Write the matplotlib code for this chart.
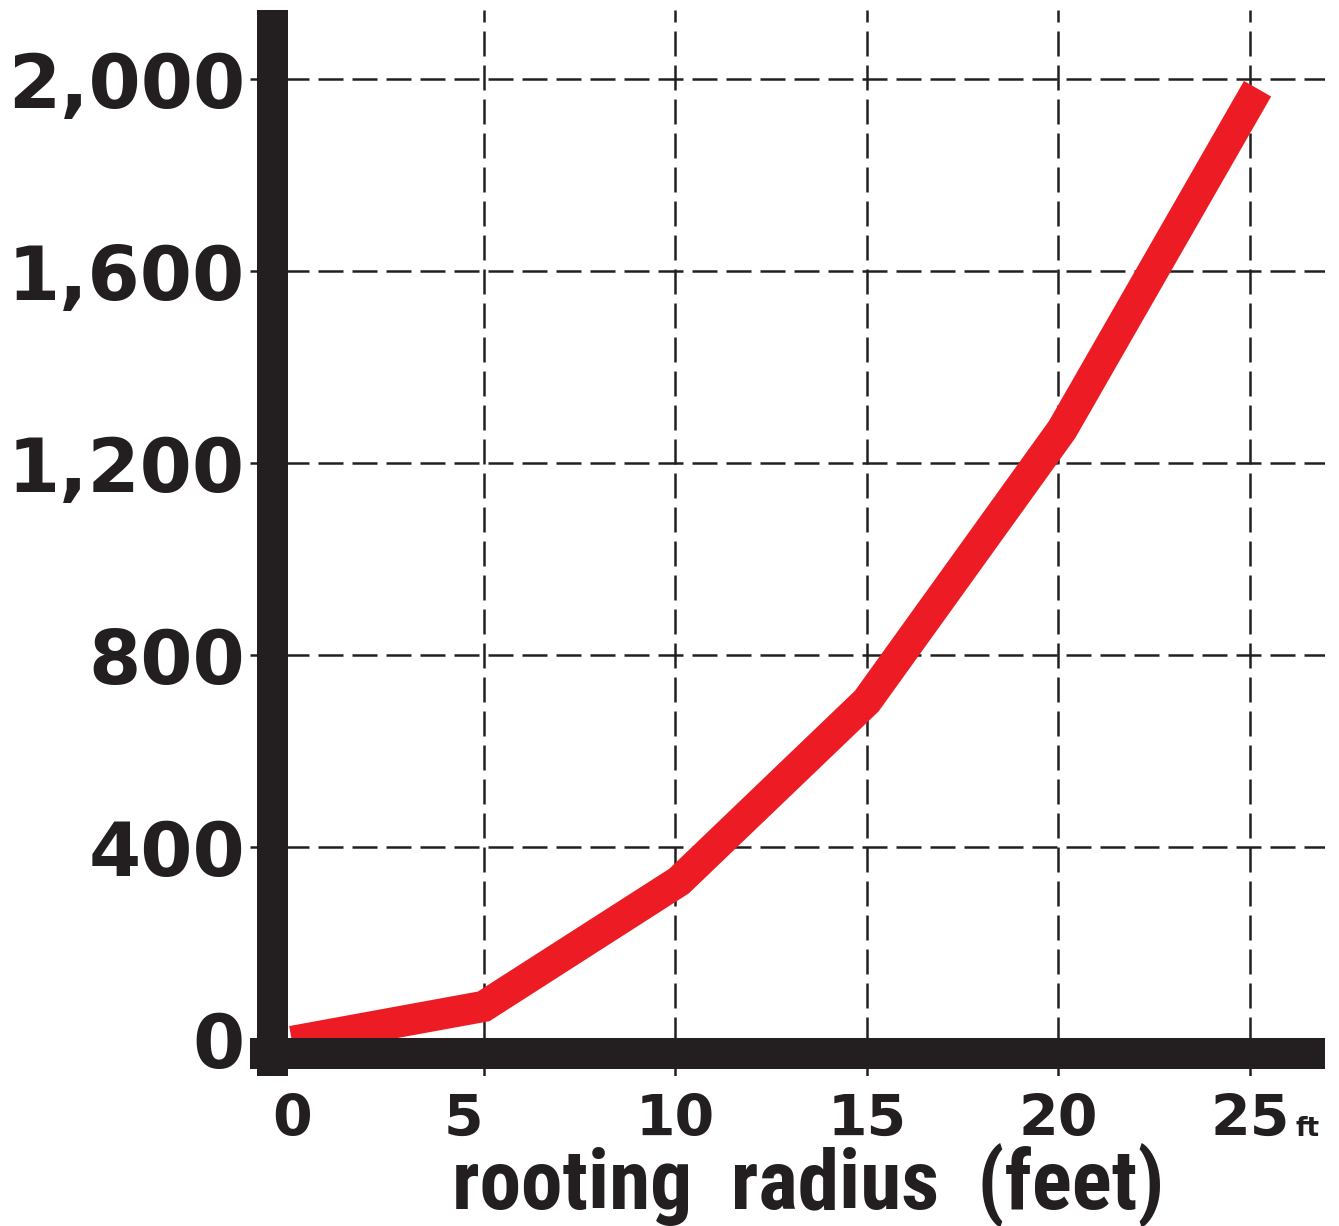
import matplotlib
matplotlib.use("Agg")
import matplotlib.pyplot as plt
from matplotlib import font_manager

# rooting radius (ft) vs rooting area
radius = [0, 5, 10.1, 15, 20.1, 25.2]
area = [-5, 68, 329, 704, 1270, 1980]

x_ticks = [0, 5, 10, 15, 20, 25]
x_labels = ["0", "5", "10", "15", "20", "25"]
y_ticks = [0, 400, 800, 1200, 1600, 2000]
y_labels = ["0", "400", "800", "1,200", "1,600", "2,000"]

fonts = font_manager.fontManager.ttflist
names = set(f.name for f in fonts)
cond = [f for f in fonts if f.name == "DejaVu Sans" and f.stretch == "condensed"]
if "Roboto Condensed" in names:
    narrow, narrow_kw = "Roboto Condensed", dict(fontweight="black", fontsize=60)
elif cond:
    narrow, narrow_kw = "DejaVu Sans", dict(fontweight="bold", fontstretch="condensed", fontsize=56)
else:
    narrow, narrow_kw = "Roboto", dict(fontweight="black", fontsize=52)

ink = "#231f20"
red = "#ed1c24"

W, H = 1339, 1226
fig = plt.figure(figsize=(W / 100, H / 100), dpi=100)
ax = fig.add_axes([250 / W, 1 - 1076 / H, 1075 / W, 1066 / H])

ax.set_xlim(-1.096, 26.96)
ax.set_ylim(-77, 2144)

for s in ax.spines.values():
    s.set_visible(False)

ax.set_xticks(x_ticks[1:])
ax.set_yticks(y_ticks[1:])
ax.tick_params(length=0, pad=0)
ax.set_xticklabels([])
ax.set_yticklabels([])
ax.grid(True, color=ink, linewidth=1.8, linestyle=(0, (10, 3.6)))

ax.plot(radius, area, color=red, linewidth=22.5, solid_joinstyle="miter",
        solid_capstyle="butt", zorder=3)

# heavy axis bars
ax.axvspan(-0.913, -0.104, color=ink, zorder=5, linewidth=0)
ax.axhspan(-62.5, 2, color=ink, zorder=5, linewidth=0)

# y labels
for v, lab in zip(y_ticks, y_labels):
    ax.annotate(lab, xy=(0, v), xycoords=("axes fraction", "data"),
                xytext=(-5, 0), textcoords="offset pixels",
                ha="right", va="center_baseline", fontsize=54, fontweight="bold",
                family="DejaVu Sans", color=ink)

# x labels
shift = {"5": -20}
for v, lab in zip(x_ticks, x_labels):
    ax.annotate(lab, xy=(v, 0), xycoords=("data", "axes fraction"),
                xytext=(shift.get(lab, 0), -60), textcoords="offset pixels",
                ha="center", va="baseline", fontsize=41, fontweight="bold",
                family="DejaVu Sans", color=ink)

ax.annotate("ft", xy=(25, 0), xycoords=("data", "axes fraction"),
            xytext=(46, -60), textcoords="offset pixels",
            ha="left", va="baseline", fontsize=19, fontweight="bold",
            family="DejaVu Sans", color=ink)

fig.text(808 / W, 1 - 1208 / H, "rooting  radius  (feet)", ha="center",
         va="baseline", family=narrow, color=ink, **narrow_kw)

fig.savefig("out.png", dpi=100)
